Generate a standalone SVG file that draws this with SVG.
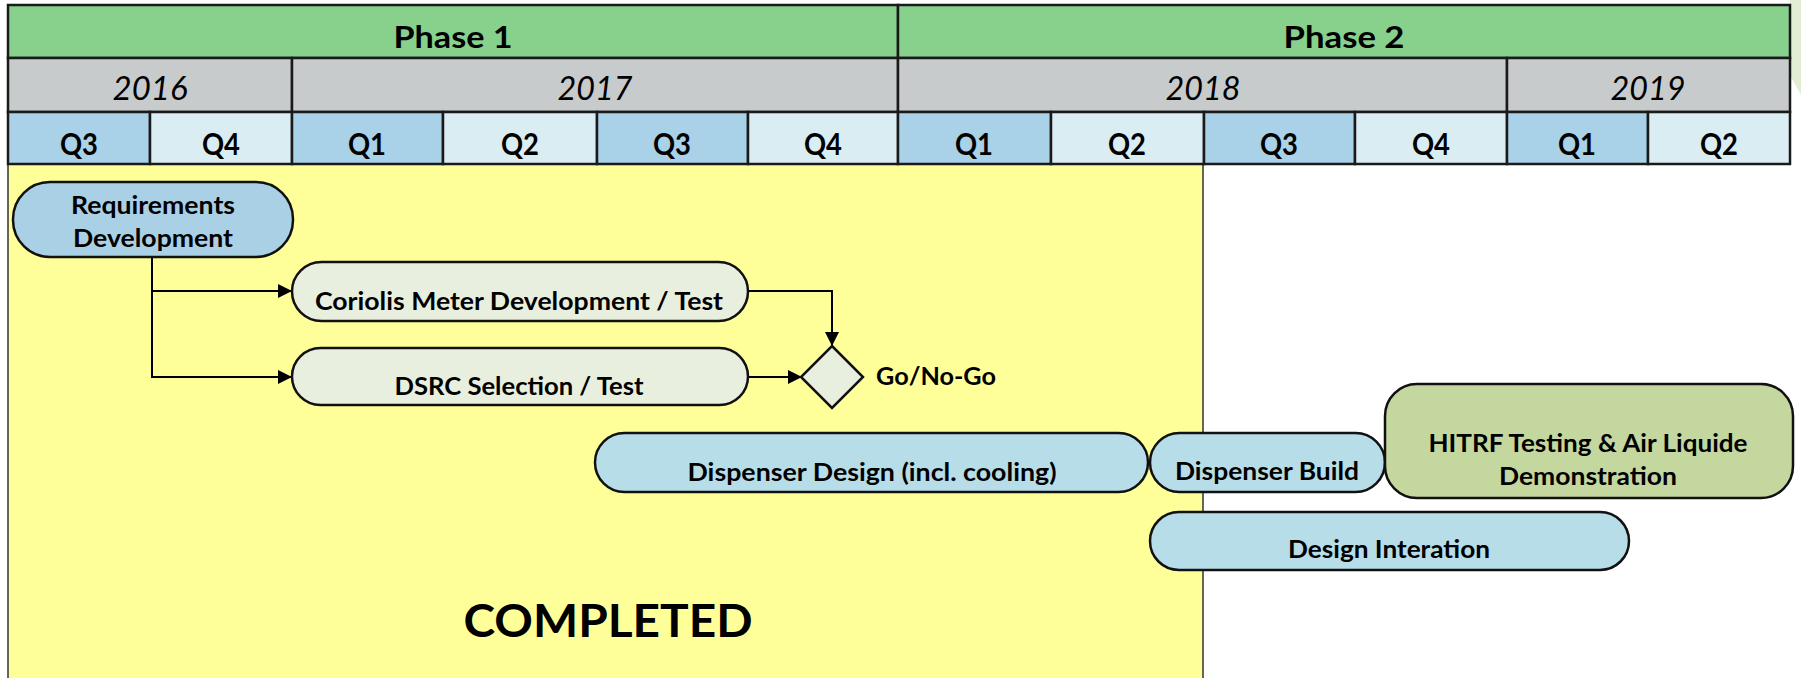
<svg xmlns="http://www.w3.org/2000/svg" width="1801" height="678" viewBox="0 0 1801 678">
<defs>
<marker id="arr" viewBox="0 0 10 10" refX="10" refY="5" markerWidth="21" markerHeight="14" markerUnits="userSpaceOnUse" orient="auto">
<path d="M0,0 L10,5 L0,10 Z" fill="#000"/>
</marker>
<style>
text{font-family:Lato,"Open Sans","Liberation Sans",sans-serif;fill:#000;text-anchor:middle}
.hdr{stroke:#1a1a1a;stroke-width:2.5}
.ph{fill:#88D18D}
.yr{fill:#C8CBCB}
.qd{fill:#A9D1E8}
.ql{fill:#DAEDF3}
.tp{font-size:31px;font-weight:bold}
.ty{font-size:32px;font-style:italic}
.tq{font-size:30px;font-weight:bold}
.tn{font-size:25px;font-weight:bold}
.node{stroke:#111;stroke-width:2.5}
.blue{fill:#AAD0E6}
.pale{fill:#E9EFDF}
.cyan{fill:#B7DDE8}
.olive{fill:#C4D79F}
.conn{fill:none;stroke:#000;stroke-width:2}
</style>
</defs>
<rect width="1801" height="678" fill="#fff"/>
<polygon points="1790,0 1801,0 1801,95 1790,75" fill="#E3EDD3"/>

<!-- completed area -->
<g id="completed">
<rect x="8" y="164" width="1195" height="520" fill="#FFFF99" stroke="#333" stroke-width="1.5"/>
<text x="608" y="637" style="font-size:46px;font-weight:bold" textLength="289" lengthAdjust="spacingAndGlyphs">COMPLETED</text>
</g>

<!-- header -->
<g id="header">
<rect class="hdr ph" x="8" y="5" width="890" height="53"/>
<rect class="hdr ph" x="898" y="5" width="892" height="53"/>
<text class="tp" x="453" y="48" textLength="119" lengthAdjust="spacingAndGlyphs">Phase 1</text>
<text class="tp" x="1344" y="48" textLength="121" lengthAdjust="spacingAndGlyphs">Phase 2</text>

<rect class="hdr yr" x="8" y="58" width="284" height="54"/>
<rect class="hdr yr" x="292" y="58" width="606" height="54"/>
<rect class="hdr yr" x="898" y="58" width="609" height="54"/>
<rect class="hdr yr" x="1507" y="58" width="283" height="54"/>
<text class="ty" x="150" y="100" textLength="75" lengthAdjust="spacingAndGlyphs">2016</text>
<text class="ty" x="595" y="100" textLength="75" lengthAdjust="spacingAndGlyphs">2017</text>
<text class="ty" x="1203" y="100" textLength="75" lengthAdjust="spacingAndGlyphs">2018</text>
<text class="ty" x="1648" y="100" textLength="75" lengthAdjust="spacingAndGlyphs">2019</text>

<rect class="hdr qd" x="8" y="112" width="142" height="52"/>
<rect class="hdr ql" x="150" y="112" width="142" height="52"/>
<rect class="hdr qd" x="292" y="112" width="151" height="52"/>
<rect class="hdr ql" x="443" y="112" width="154" height="52"/>
<rect class="hdr qd" x="597" y="112" width="151" height="52"/>
<rect class="hdr ql" x="748" y="112" width="150" height="52"/>
<rect class="hdr qd" x="898" y="112" width="153" height="52"/>
<rect class="hdr ql" x="1051" y="112" width="153" height="52"/>
<rect class="hdr qd" x="1204" y="112" width="151" height="52"/>
<rect class="hdr ql" x="1355" y="112" width="152" height="52"/>
<rect class="hdr qd" x="1507" y="112" width="141" height="52"/>
<rect class="hdr ql" x="1648" y="112" width="142" height="52"/>
<text class="tq" x="79" y="155" textLength="38" lengthAdjust="spacingAndGlyphs">Q3</text>
<text class="tq" x="221" y="155" textLength="38" lengthAdjust="spacingAndGlyphs">Q4</text>
<text class="tq" x="367" y="155" textLength="38" lengthAdjust="spacingAndGlyphs">Q1</text>
<text class="tq" x="520" y="155" textLength="38" lengthAdjust="spacingAndGlyphs">Q2</text>
<text class="tq" x="672" y="155" textLength="38" lengthAdjust="spacingAndGlyphs">Q3</text>
<text class="tq" x="823" y="155" textLength="38" lengthAdjust="spacingAndGlyphs">Q4</text>
<text class="tq" x="974" y="155" textLength="38" lengthAdjust="spacingAndGlyphs">Q1</text>
<text class="tq" x="1127" y="155" textLength="38" lengthAdjust="spacingAndGlyphs">Q2</text>
<text class="tq" x="1279" y="155" textLength="38" lengthAdjust="spacingAndGlyphs">Q3</text>
<text class="tq" x="1431" y="155" textLength="38" lengthAdjust="spacingAndGlyphs">Q4</text>
<text class="tq" x="1577" y="155" textLength="38" lengthAdjust="spacingAndGlyphs">Q1</text>
<text class="tq" x="1719" y="155" textLength="38" lengthAdjust="spacingAndGlyphs">Q2</text>
</g>

<!-- connectors -->
<g id="connectors">
<path class="conn" d="M152,257 V291 H292" marker-end="url(#arr)"/>
<path class="conn" d="M152,291 V377 H292" marker-end="url(#arr)"/>
<path class="conn" d="M748,291 H832 V346" marker-end="url(#arr)"/>
<path class="conn" d="M748,377 H802" marker-end="url(#arr)"/>
</g>

<g id="req">
<rect class="node blue" x="13" y="182" width="280" height="75" rx="37"/>
<text class="tn" x="153" y="214" textLength="164" lengthAdjust="spacingAndGlyphs">Requirements</text>
<text class="tn" x="153" y="247" textLength="160" lengthAdjust="spacingAndGlyphs">Development</text>
</g>

<g id="coriolis">
<rect class="node pale" x="292" y="262" width="456" height="59" rx="29.5"/>
<text class="tn" x="519" y="310" textLength="408" lengthAdjust="spacingAndGlyphs">Coriolis Meter Development / Test</text>
</g>

<g id="dsrc">
<rect class="node pale" x="292" y="348" width="456" height="57" rx="28.5"/>
<text class="tn" x="519" y="395" textLength="249" lengthAdjust="spacingAndGlyphs">DSRC Selection / Test</text>
</g>

<g id="gonogo">
<polygon class="node pale" points="832,346 863,377 832,408 801,377"/>
<text class="tn" x="936" y="385" textLength="120" lengthAdjust="spacingAndGlyphs">Go/No-Go</text>
</g>

<g id="design">
<rect class="node cyan" x="595" y="433" width="553" height="59" rx="29.5"/>
<text class="tn" x="872" y="481" textLength="369" lengthAdjust="spacingAndGlyphs">Dispenser Design (incl. cooling)</text>
</g>

<g id="build">
<rect class="node cyan" x="1150" y="433" width="235" height="59" rx="29.5"/>
<text class="tn" x="1267" y="480" textLength="184" lengthAdjust="spacingAndGlyphs">Dispenser Build</text>
</g>

<g id="hitrf">
<rect class="node olive" x="1385" y="384" width="408" height="114" rx="32"/>
<text class="tn" x="1588" y="452" textLength="319" lengthAdjust="spacingAndGlyphs">HITRF Testing &amp; Air Liquide</text>
<text class="tn" x="1588" y="485" textLength="178" lengthAdjust="spacingAndGlyphs">Demonstration</text>
</g>

<g id="iteration">
<rect class="node cyan" x="1150" y="512" width="479" height="58" rx="29"/>
<text class="tn" x="1389" y="558" textLength="202" lengthAdjust="spacingAndGlyphs">Design Interation</text>
</g>
</svg>
